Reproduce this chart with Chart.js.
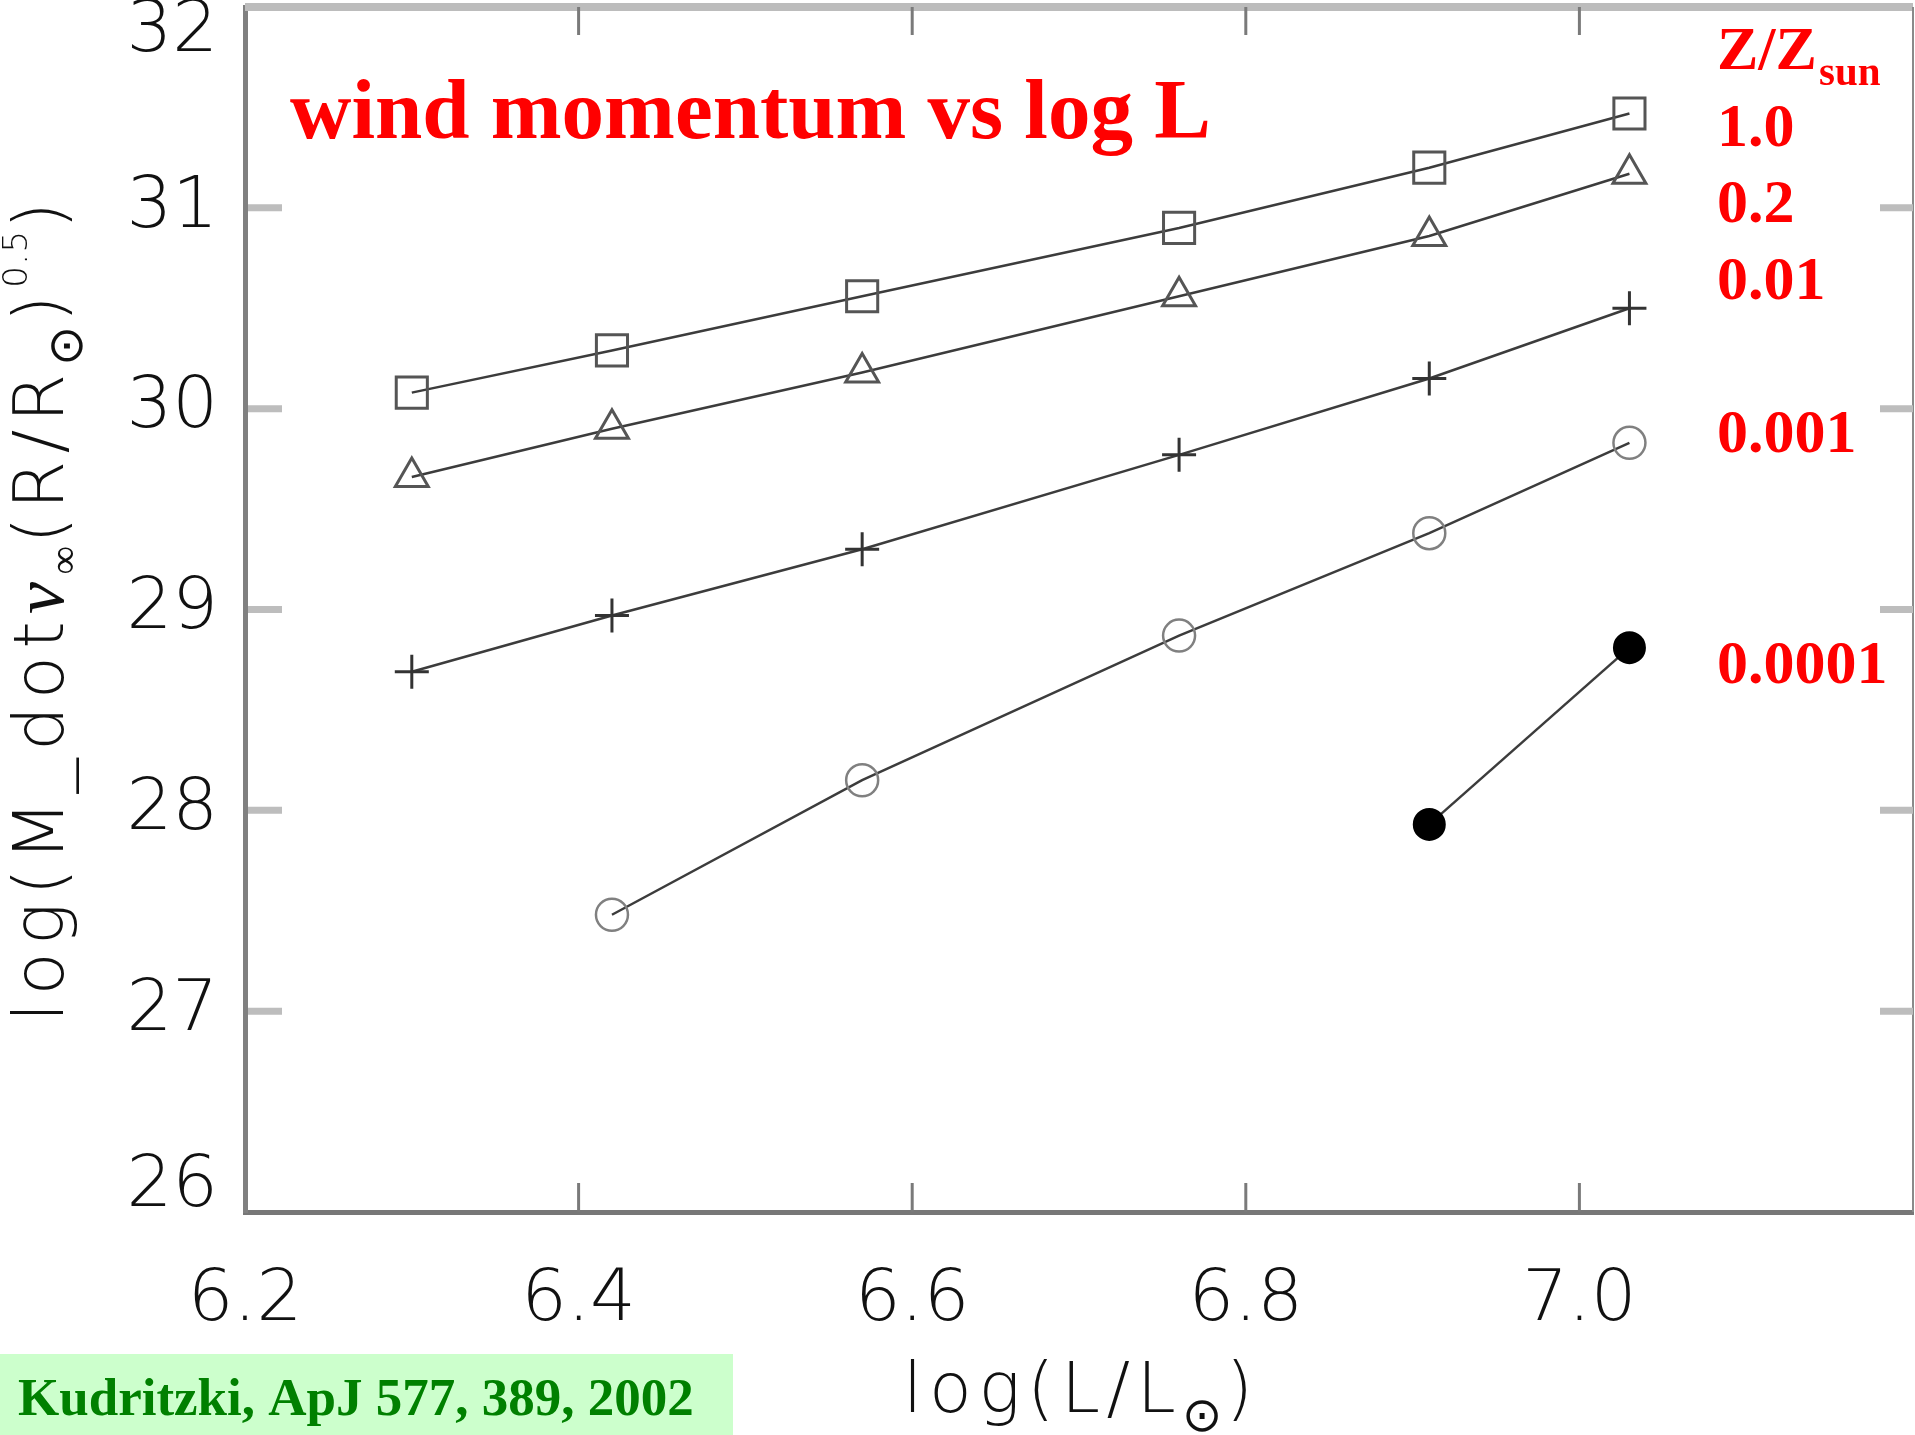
<!DOCTYPE html>
<html>
<head>
<meta charset="utf-8">
<script src="https://cdn.jsdelivr.net/npm/chart.js@4.4.1/dist/chart.umd.min.js"></script>
<style>
  html, body { margin: 0; padding: 0; background: #fff; }
  #caja { position: relative; width: 1915px; height: 1435px; }
</style>
</head>
<body>
<div id="caja"><canvas id="grafico"></canvas></div>
<script>
// log(L/Lsun) de los modelos
const logL = [6.30, 6.42, 6.57, 6.76, 6.91, 7.03];

// momento del viento para cada metalicidad Z/Zsun (null = sin modelo)
const z10 = [30.08, 30.29, 30.56, 30.90, 31.20, 31.47];
const z02 = [29.66, 29.90, 30.18, 30.56, 30.86, 31.17];
const z001 = [28.69, 28.97, 29.30, 29.77, 30.15, 30.50];
const z0001 = [null, 27.48, 28.15, 28.87, 29.38, 29.83];
const z00001 = [null, null, null, null, 27.93, 28.81];

const nombresZ = ['1.0', '0.2', '0.01', '0.001', '0.0001'];
const ticksX = [6.2, 6.4, 6.6, 6.8, 7.0];
const ticksY = [26, 27, 28, 29, 30, 31, 32];

const puntos = (serie) => logL
    .map((x, i) => ({ x: x, y: serie[i] }))
    .filter(p => p.y !== null);

const fuenteEje = { family: '"DejaVu Sans"', size: 72, weight: '200' };

// dibuja texto con sub/superindices, estirado a un largo dado
function textoRico(ctx, partes, cx, cy, largo, angulo) {
    ctx.save();
    ctx.translate(cx, cy);
    ctx.rotate(angulo);
    let natural = 0, pesos = 0;
    partes.forEach(p => {
        ctx.font = p.f;
        const cs = [...p.t];
        cs.forEach(c => { natural += ctx.measureText(c).width; pesos += p.k; });
    });
    const hueco = (largo - natural) / pesos;
    let x = -largo / 2;
    ctx.textAlign = 'left';
    ctx.textBaseline = 'alphabetic';
    ctx.fillStyle = '#111';
    partes.forEach(p => {
        ctx.font = p.f;
        for (const c of p.t) {
            ctx.fillText(c, x, p.dy);
            x += ctx.measureText(c).width + hueco * p.k;
        }
    });
    ctx.restore();
}

const linea = (ctx, x1, y1, x2, y2) => {
    ctx.beginPath(); ctx.moveTo(x1, y1); ctx.lineTo(x2, y2); ctx.stroke();
};

const marco = {
    id: 'marco',
    afterDraw(chart) {
        const ctx = chart.ctx;
        const { left, right, top, bottom } = chart.chartArea;
        const sx = chart.scales.x, sy = chart.scales.y;
        ctx.save();
        ctx.lineCap = 'butt';

        // borde superior y derecho
        ctx.strokeStyle = '#bcbcbc'; ctx.lineWidth = 8;
        linea(ctx, left, top, right, top);
        ctx.strokeStyle = '#8a8a8a'; ctx.lineWidth = 2;
        linea(ctx, right, top, right, bottom);

        // marcas hacia adentro
        ctx.strokeStyle = '#7a7a7a'; ctx.lineWidth = 3;
        sx.ticks.forEach(t => {
            const px = sx.getPixelForValue(t.value);
            if (px <= left + 3) return;
            linea(ctx, px, top, px, top + 28);
            linea(ctx, px, bottom, px, bottom - 29);
        });
        ctx.strokeStyle = '#bdbdbd'; ctx.lineWidth = 7;
        sy.ticks.forEach(t => {
            const py = sy.getPixelForValue(t.value);
            if (py <= top + 3 || py >= bottom - 3) return;
            linea(ctx, left + 3, py, left + 37, py);
            linea(ctx, right - 33, py, right, py);
        });

        // titulos de ejes
        const f = (s) => '200 ' + s + 'px "DejaVu Sans"';
        textoRico(ctx, [
            { t: 'log(M_dot', f: f(70), dy: 0, k: 1 },
            { t: 'v', f: 'italic 72px "Liberation Serif"', dy: 0, k: 1 },
            { t: '∞', f: f(40), dy: 14, k: 0.3 },
            { t: '(R/R', f: f(70), dy: 0, k: 1 },
            { t: '⊙', f: f(48), dy: 19, k: 0.5 },
            { t: ')', f: f(70), dy: 0, k: 1 },
            { t: '0.5', f: f(34), dy: -36, k: 0.2 },
            { t: ')', f: f(70), dy: 0, k: 0 }
        ], 63, 612, 820, -Math.PI / 2);
        textoRico(ctx, [
            { t: 'log(L/L', f: f(70), dy: 0, k: 1 },
            { t: '⊙', f: f(48), dy: 19, k: 0.5 },
            { t: ')', f: f(70), dy: 0, k: 0 }
        ], 1078, 1412, 350, 0);

        // titulo en rojo
        ctx.textAlign = 'left';
        ctx.textBaseline = 'alphabetic';
        ctx.fillStyle = '#ff0000';
        ctx.font = 'bold 85px "Liberation Serif"';
        ctx.fillText('wind momentum vs log L', 290, 138);

        // etiquetas de metalicidad
        ctx.font = 'bold 62px "Liberation Serif"';
        ctx.fillText('Z/Z', 1717, 69);
        const wz = ctx.measureText('Z/Z').width;
        ctx.font = 'bold 41px "Liberation Serif"';
        ctx.fillText('sun', 1717 + wz + 2, 85);
        const lineasBase = [146, 222, 299, 452, 683];
        ctx.font = 'bold 62px "Liberation Serif"';
        chart.data.datasets.forEach((d, i) => {
            ctx.fillText(d.label, 1717, lineasBase[i]);
        });

        // referencia
        ctx.fillStyle = '#ccffcc';
        ctx.fillRect(0, 1354, 733, 81);
        ctx.fillStyle = '#008000';
        ctx.font = 'bold 53px "Liberation Serif"';
        ctx.fillText('Kudritzki, ApJ 577, 389, 2002', 18, 1415);
        ctx.restore();
    }
};

const base = {
    borderColor: '#3c3c3c',
    borderWidth: 2.5,
    pointBackgroundColor: 'rgba(0,0,0,0)',
    pointBorderColor: '#555',
    pointBorderWidth: 3,
    pointHoverRadius: 0,
    tension: 0
};

new Chart(document.getElementById('grafico'), {
    type: 'line',
    data: {
        datasets: [
            Object.assign({}, base, { label: nombresZ[0], data: puntos(z10), pointStyle: 'rect', pointRadius: 22 }),
            Object.assign({}, base, { label: nombresZ[1], data: puntos(z02), pointStyle: 'triangle', pointRadius: 19 }),
            Object.assign({}, base, { label: nombresZ[2], data: puntos(z001), pointStyle: 'cross', pointRadius: 17, pointBorderColor: '#333' }),
            Object.assign({}, base, { label: nombresZ[3], data: puntos(z0001), pointStyle: 'circle', pointRadius: 16, pointBorderColor: '#808080', pointBorderWidth: 2.5 }),
            Object.assign({}, base, { label: nombresZ[4], data: puntos(z00001), pointStyle: 'circle', pointRadius: 15, pointBackgroundColor: '#000', pointBorderColor: '#000' })
        ]
    },
    options: {
        responsive: true,
        maintainAspectRatio: false,
        animation: false,
        layout: { autoPadding: false, padding: { top: 7, right: 2, left: 0, bottom: 0 } },
        plugins: { legend: { display: false }, tooltip: { enabled: false } },
        scales: {
            x: {
                type: 'linear',
                min: 6.2,
                max: 7.2,
                afterBuildTicks: s => { s.ticks = ticksX.map(v => ({ value: v })); },
                afterFit: s => { s.height = 223; s.paddingLeft = 0; s.paddingRight = 0; },
                grid: { drawOnChartArea: false, drawTicks: false },
                border: { color: '#777', width: 5 },
                ticks: {
                    padding: 46,
                    color: '#111',
                    font: fuenteEje,
                    maxRotation: 0,
                    autoSkip: false,
                    callback: v => v.toFixed(1)
                }
            },
            y: {
                min: 26,
                max: 32,
                afterBuildTicks: s => { s.ticks = ticksY.map(v => ({ value: v })); },
                afterFit: s => { s.width = 245; s.paddingTop = 0; s.paddingBottom = 0; },
                grid: { drawOnChartArea: false, drawTicks: false },
                border: { color: '#808080', width: 5 },
                ticks: {
                    padding: 27,
                    color: '#111',
                    font: Object.assign({}, fuenteEje, { lineHeight: 0.7 }),
                    autoSkip: false,
                    callback: (v, i, t) => i === 0 ? [String(v), ''] : (i === t.length - 1 ? ['', String(v)] : String(v))
                }
            }
        }
    },
    plugins: [marco]
});
</script>
</body>
</html>
